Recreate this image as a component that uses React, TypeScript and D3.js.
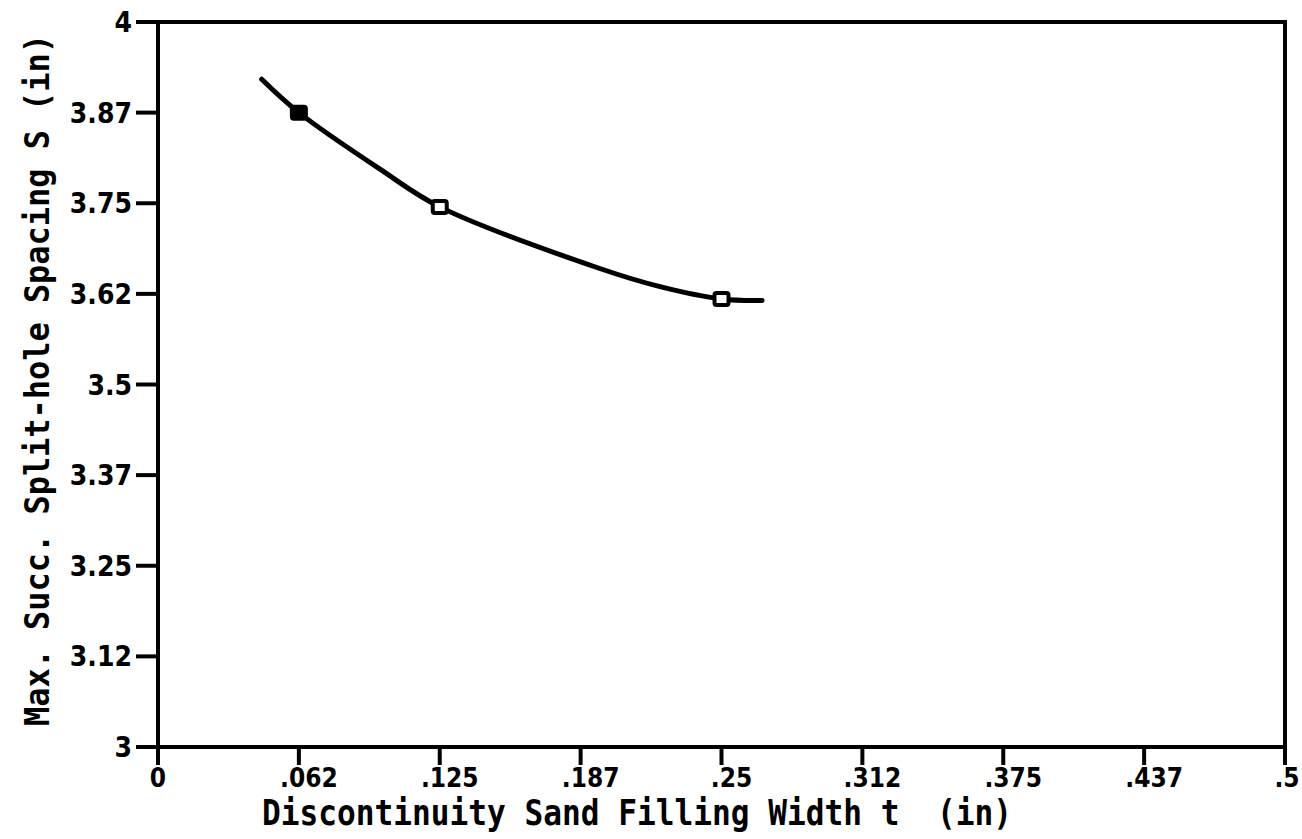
import React from 'react';
import * as d3 from 'd3';

// tick positions and printed labels (the plotter truncates the labels)
const xTicks = [0, 0.0625, 0.125, 0.1875, 0.25, 0.3125, 0.375, 0.4375, 0.5];
const xTickLabels = ['0', '.062', '.125', '.187', '.25', '.312', '.375', '.437', '.5'];
const yTicks = [3, 3.125, 3.25, 3.375, 3.5, 3.625, 3.75, 3.875, 4];
const yTickLabels = ['3', '3.12', '3.25', '3.37', '3.5', '3.62', '3.75', '3.87', '4'];

// measured points
const pointT = [0.0625, 0.125, 0.25];
const pointS = [3.875, 3.745, 3.618];

// fitted curve
const curveT = [0.046, 0.0625, 0.0985, 0.125, 0.196, 0.2227, 0.25, 0.268];
const curveS = [3.921, 3.875, 3.797, 3.745, 3.66, 3.635, 3.618, 3.616];

const font = '"DejaVu Sans Condensed", "DejaVu Sans", sans-serif';

export default function App() {
  const width = 1302;
  const height = 839;

  const x = d3.scaleLinear().domain([0, 0.5]).range([158, 1285]);
  const y = d3.scaleLinear().domain([3, 4]).range([747, 22]);

  const line = d3.line<number>()
    .x((d, i) => x(curveT[i]))
    .y(d => y(d))
    .curve(d3.curveCatmullRom);

  const xLabelShift = (i: number) => (i === 0 ? 0 : i === xTicks.length - 1 ? 2 : 10);

  return (
    <svg width={width} height={height}
      style={{ position: 'absolute', left: 0, top: 0, background: '#fff' }}>
      {/* frame */}
      <rect x={x(0)} y={y(4)} width={x(0.5) - x(0)} height={y(3) - y(4)}
        fill="none" stroke="#000" strokeWidth={4} />

      {/* y ticks */}
      {yTicks.map((v, i) => (
        <g key={'y' + i}>
          <line x1={x(0) - 22} x2={x(0)} y1={y(v)} y2={y(v)} stroke="#000" strokeWidth={4} />
          <text x={x(0) - 26} y={y(v)} dy="0.36em" textAnchor="end"
            fontFamily={font} fontWeight="bold" fontSize={28}>{yTickLabels[i]}</text>
        </g>
      ))}

      {/* x ticks */}
      {xTicks.map((v, i) => (
        <g key={'x' + i}>
          <line x1={x(v)} x2={x(v)} y1={y(3)} y2={y(3) + 18} stroke="#000" strokeWidth={4} />
          <text x={x(v) + xLabelShift(i)} y={787} textAnchor="middle"
            fontFamily={font} fontWeight="bold" fontSize={26}>{xTickLabels[i]}</text>
        </g>
      ))}

      {/* curve */}
      <path d={line(curveS) || ''} fill="none" stroke="#000" strokeWidth={5}
        strokeLinecap="round" strokeLinejoin="round" />

      {/* markers */}
      {pointT.map((t, i) => (
        <rect key={'p' + i} x={x(t) - 7} y={y(pointS[i]) - 6} width={14} height={12}
          fill={i === 0 ? '#000' : '#fff'} stroke="#000" strokeWidth={4} rx={2} />
      ))}

      {/* axis titles */}
      <text x={262} y={825} textLength={750} lengthAdjust="spacingAndGlyphs"
        fontFamily='"DejaVu Sans Mono", monospace' fontWeight="bold" fontSize={36}
        xmlSpace="preserve">Discontinuity Sand Filling Width t  (in)</text>
      <text transform="translate(49,726) rotate(-90)" x={0} y={0}
        textLength={692} lengthAdjust="spacingAndGlyphs"
        fontFamily='"DejaVu Sans Mono", monospace' fontWeight="bold" fontSize={34}>
        Max. Succ. Split-hole Spacing S (in)
      </text>
    </svg>
  );
}
